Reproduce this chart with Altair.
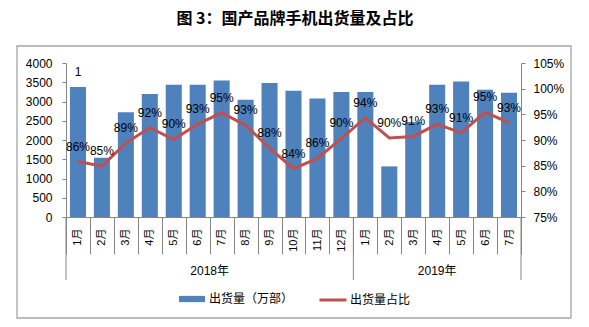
import altair as alt
import pandas as pd

# ---------------- data ----------------
years = ["2018年"] * 12 + ["2019年"] * 7
months = ["1月", "2月", "3月", "4月", "5月", "6月", "7月", "8月", "9月", "10月", "11月", "12月",
          "1月", "2月", "3月", "4月", "5月", "6月", "7月"]
shipments = [3376, 1539, 2724, 3193, 3436, 3436, 3548, 3045, 3480, 3279, 3079, 3246,
             3246, 1315, 2470, 3436, 3522, 3306, 3227]
shares_pct = [85.8, 84.9, 89.4, 92.4, 90.1, 93.1, 95.3, 92.9, 88.4, 84.4, 86.4, 90.3,
              94.3, 90.4, 90.7, 93.1, 91.4, 95.4, 93.4]
year_labels = ["2018年", "2019年"]
bar_note = "1"
title_text = "图 3：国产品牌手机出货量及占比"
bar_series = "出货量（万部）"
line_series = "出货量占比"
left_ticks = [0, 500, 1000, 1500, 2000, 2500, 3000, 3500, 4000]
right_ticks = [0.75, 0.80, 0.85, 0.90, 0.95, 1.00, 1.05]

cats = [f"{y}-{m}" for y, m in zip(years, months)]
df = pd.DataFrame({
    "idx": list(range(len(cats))),
    "cat": cats,
    "year": years,
    "shipments": shipments,
    "share": [s / 100 for s in shares_pct],
})

# year boundary / label anchors derived from the data
first_of_year = df.drop_duplicates("year", keep="first")
last_cat = df.tail(1)
label_rows_even, label_rows_odd = [], []
for y in year_labels:
    sub = df[df["year"] == y].reset_index(drop=True)
    n = len(sub)
    if n % 2 == 0:
        label_rows_even.append({"cat": sub.loc[n // 2 - 1, "cat"], "label": y})
    else:
        label_rows_odd.append({"cat": sub.loc[(n - 1) // 2, "cat"], "label": y})

FONT = "Liberation Sans, Noto Sans CJK SC"
CJK = "Noto Sans CJK SC"
BLUE = "#4F81BD"
RED = "#C0504D"
GRAY = "#868686"
W, H = 455, 154

x_axis = alt.Axis(labelExpr="split(datum.value, '-')[1]", labelAngle=270,
                  labelAlign="right", labelBaseline="middle",
                  tickBand="extent", tickSize=37, labelPadding=-26,
                  domainColor=GRAY, tickColor=GRAY, labelFont=FONT,
                  labelFontSize=11, labelColor="black", labelOverlap=False)


def xenc(band_pos=None):
    kw = {}
    if band_pos is not None:
        kw["bandPosition"] = band_pos
    return alt.X("cat:N", sort=cats, title=None,
                 scale=alt.Scale(type="band", paddingInner=0, paddingOuter=0),
                 axis=x_axis, **kw)


frame = alt.Chart(pd.DataFrame({"a": [0]})).mark_rect(
    filled=False, stroke="#A6A6A6", strokeWidth=1.3
).encode(x=alt.value(-49), x2=alt.value(505), y=alt.value(-17), y2=alt.value(255))

title = alt.Chart(pd.DataFrame({"t": [title_text]})).mark_text(
    font=CJK, fontSize=16, fontWeight="bold", align="center", baseline="middle", color="black"
).encode(x=alt.value(229), y=alt.value(-44), text="t:N")

bars = alt.Chart(df).transform_calculate(series=f"'{bar_series}'").mark_bar(
    width=alt.RelativeBandSize(0.67)
).encode(
    x=xenc(),
    y=alt.Y("shipments:Q", title=None,
            scale=alt.Scale(domain=[0, 4000], nice=False, zero=False),
            axis=alt.Axis(values=left_ticks, format="d", grid=False, tickSize=4,
                          labelPadding=10, domainColor=GRAY, tickColor=GRAY,
                          labelFont=FONT, labelFontSize=12, labelColor="black")),
    fill=alt.Fill("series:N", scale=alt.Scale(domain=[bar_series], range=[BLUE]),
                  legend=alt.Legend(title=None, orient="none", legendX=113, legendY=223,
                                    symbolType="M-1,-0.24H1V0.24H-1Z", symbolSize=676,
                                    symbolStrokeWidth=0, labelFont=CJK, labelFontSize=12,
                                    labelColor="black", padding=0, labelOffset=4)),
)

note = alt.Chart(df).transform_filter("datum.idx == 0").transform_calculate(
    note=f"'{bar_note}'"
).mark_text(font=FONT, fontSize=12, baseline="alphabetic", dy=-11, color="black").encode(
    x=xenc(),
    y=alt.Y("shipments:Q", scale=alt.Scale(domain=[0, 4000], nice=False, zero=False), axis=None),
    text="note:N",
)

rules_first = alt.Chart(first_of_year).mark_rule(color=GRAY, strokeWidth=1).encode(
    x=xenc(band_pos=0), y=alt.value(H), y2=alt.value(217))
rules_last = alt.Chart(last_cat).mark_rule(color=GRAY, strokeWidth=1).encode(
    x=xenc(band_pos=1), y=alt.value(H), y2=alt.value(217))

line = alt.Chart(df).transform_calculate(series2=f"'{line_series}'").mark_line(
    strokeWidth=3
).encode(
    x=xenc(),
    y=alt.Y("share:Q", title=None,
            scale=alt.Scale(domain=[0.75, 1.05], nice=False, zero=False),
            axis=alt.Axis(orient="right", values=right_ticks, format=".0%", grid=False,
                          tickSize=4, labelPadding=8, domainColor=GRAY, tickColor=GRAY,
                          labelFont=FONT, labelFontSize=12, labelColor="black")),
    order=alt.Order("idx:Q"),
    stroke=alt.Stroke("series2:N", scale=alt.Scale(domain=[line_series], range=[RED]),
                      legend=alt.Legend(title=None, orient="none", legendX=252, legendY=222,
                                        symbolType="stroke", symbolSize=729,
                                        symbolStrokeWidth=3, labelFont=CJK, labelFontSize=12,
                                        labelColor="black", padding=0, labelOffset=2)),
)

line_labels = alt.Chart(df).mark_text(
    font=FONT, fontSize=12, baseline="alphabetic", dy=-11, color="black"
).encode(
    x=xenc(),
    y=alt.Y("share:Q", scale=alt.Scale(domain=[0.75, 1.05], nice=False, zero=False), axis=None),
    text=alt.Text("share:Q", format=".0%"),
)

year_layers = []
if label_rows_even:
    year_layers.append(alt.Chart(pd.DataFrame(label_rows_even)).mark_text(
        font=FONT, fontSize=12, baseline="middle", color="black"
    ).encode(x=xenc(band_pos=1), y=alt.value(208), text="label:N"))
if label_rows_odd:
    year_layers.append(alt.Chart(pd.DataFrame(label_rows_odd)).mark_text(
        font=FONT, fontSize=12, baseline="middle", color="black"
    ).encode(x=xenc(band_pos=0.5), y=alt.value(208), text="label:N"))

chart = alt.layer(
    frame, title, bars, note, rules_first, rules_last, line, line_labels, *year_layers
).resolve_scale(y="independent").properties(
    width=W, height=H,
    autosize=alt.AutoSizeParams(type="none"),
    padding={"left": 66, "top": 63, "right": 68, "bottom": 110},
    background="white",
).configure_view(strokeWidth=0)

chart.save("out.html", embed_options={"renderer": "svg", "actions": False})
